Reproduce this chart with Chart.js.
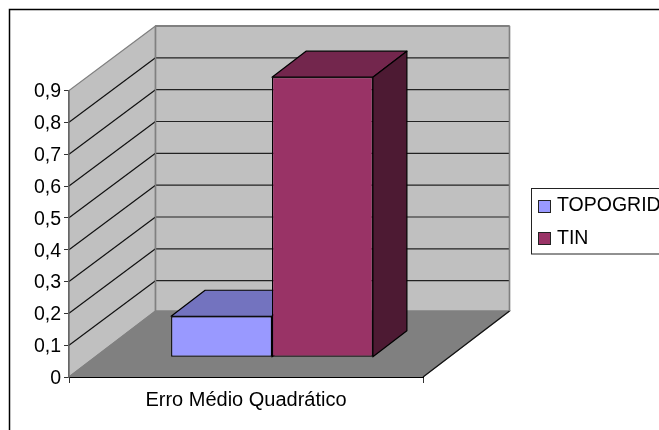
<!DOCTYPE html>
<html>
<head>
<meta charset="utf-8">
<title>Erro Médio Quadrático</title>
<script src="https://cdn.jsdelivr.net/npm/chart.js@4"></script>
<style>
  html, body { margin: 0; padding: 0; background: #fff; overflow: hidden; }
  canvas { display: block; }
</style>
</head>
<body>
<canvas id="chart" width="659" height="430"></canvas>
<script>
const categories = ['Erro Médio Quadrático'];
const seriesNames = ['TOPOGRID', 'TIN'];
const topogridValues = [0.129];
const tinValues = [0.88];
const yTickLabels = ['0', '0,1', '0,2', '0,3', '0,4', '0,5', '0,6', '0,7', '0,8', '0,9'];

const FONT = '"Liberation Sans", Arial, sans-serif';
const FONT_SIZE = 19.5;

// front colour, top face, side face of each series
const barColors = [
    { front: '#9999ff', top: '#7373bf', side: '#4d4d80' },
    { front: '#993366', top: '#73264d', side: '#4d1a33' }
];

// how far the back wall sits from the front plane, and the bars inside that box
const wallDepth = { x: 86.5, y: -64.5 };
const floorRise = -66;
const barOffset = { x: 26, y: -19.7 };
const barDepth = { x: 34, y: -26 };

function poly(ctx, pts, fill, stroke) {
    ctx.beginPath();
    ctx.moveTo(pts[0][0], pts[0][1]);
    for (let i = 1; i < pts.length; i++) ctx.lineTo(pts[i][0], pts[i][1]);
    ctx.closePath();
    if (fill) { ctx.fillStyle = fill; ctx.fill(); }
    if (stroke) { ctx.strokeStyle = stroke; ctx.lineWidth = 1.2; ctx.stroke(); }
}

function line(ctx, x1, y1, x2, y2, color, width) {
    ctx.strokeStyle = color;
    ctx.lineWidth = width || 1.2;
    ctx.beginPath();
    ctx.moveTo(x1, y1);
    ctx.lineTo(x2, y2);
    ctx.stroke();
}

// walls, floor and gridlines of the 3D box
const boxPlugin = {
    id: 'box',
    beforeDraw(chart) {
        const ctx = chart.ctx;
        const { left, right } = chart.chartArea;
        const y = chart.scales.y;
        const y0 = y.getPixelForValue(0);
        const yTop = y.getPixelForValue(0.9);
        const dx = wallDepth.x, dy = wallDepth.y;
        ctx.save();

        // frame round the whole chart, runs off the right and bottom
        ctx.strokeStyle = '#000';
        ctx.lineWidth = 1.5;
        ctx.strokeRect(9.5, 9.5, 700, 500);

        poly(ctx, [[left, y0], [left + dx, y0 + floorRise], [left + dx, yTop + dy], [left, yTop]], '#c0c0c0', '#808080');
        poly(ctx, [[left + dx, y0 + floorRise], [right + dx, y0 + floorRise], [right + dx, yTop + dy], [left + dx, yTop + dy]], '#c0c0c0', '#808080');
        poly(ctx, [[left, y0], [right, y0], [right + dx, y0 + floorRise], [left + dx, y0 + floorRise]], '#808080', '#808080');
        line(ctx, right, y0, right + dx, y0 + floorRise, '#111');

        y.ticks.forEach(t => {
            if (t.value === 0 || t.value >= 0.9) return;
            const py = y.getPixelForValue(t.value);
            line(ctx, left, py, left + dx, py + dy, '#111');
            line(ctx, left + dx, py + dy, right + dx, py + dy, '#222');
        });

        // top edge of the wall is a heavier grey
        line(ctx, left + dx, yTop + dy, right + dx, yTop + dy, '#808080', 2);
        line(ctx, right + dx, yTop + dy, right + dx, y0 + floorRise, '#808080', 1.5);
        line(ctx, left + dx, yTop + dy, left + dx, y0 + floorRise, '#808080', 1.5);
        ctx.restore();
    },
    // extruded faces go first, then the library's bars go on top at the same shift
    beforeDatasetsDraw(chart) {
        const ctx = chart.ctx;
        ctx.save();
        ctx.translate(barOffset.x, barOffset.y);
        ctx.lineJoin = 'round';
        chart.data.datasets.forEach((ds, i) => {
            chart.getDatasetMeta(i).data.forEach(bar => {
                const x1 = bar.x - bar.width / 2, x2 = bar.x + bar.width / 2;
                const yT = bar.y, yB = bar.base;
                const d = barDepth;
                poly(ctx, [[x1, yT], [x2, yT], [x2 + d.x, yT + d.y], [x1 + d.x, yT + d.y]], barColors[i].top, '#000');
                poly(ctx, [[x2, yT], [x2 + d.x, yT + d.y], [x2 + d.x, yB + d.y], [x2, yB]], barColors[i].side, '#000');
            });
        });
    },
    afterDatasetsDraw(chart) {
        chart.ctx.restore();
    },
    // legend box hangs off the right side of the canvas
    afterDraw(chart) {
        const ctx = chart.ctx;
        ctx.save();
        ctx.fillStyle = '#fff';
        ctx.fillRect(531.5, 188.5, 140, 65.5);
        ctx.strokeStyle = '#222';
        ctx.lineWidth = 1;
        ctx.strokeRect(531.5, 188.5, 140, 65.5);
        ctx.font = FONT_SIZE + 'px ' + FONT;
        ctx.textBaseline = 'middle';
        seriesNames.forEach((name, i) => {
            const top = 201 + i * 32;
            ctx.fillStyle = barColors[i].front;
            ctx.fillRect(538.5, top - 0.5, 12, 12);
            ctx.strokeStyle = '#222';
            ctx.strokeRect(538.5, top - 0.5, 12, 12);
            ctx.fillStyle = '#000';
            ctx.fillText(name, 557, top + 4.5 + i);
        });
        ctx.restore();
    }
};

new Chart(document.getElementById('chart'), {
    type: 'bar',
    data: {
        labels: categories,
        datasets: [
            { label: seriesNames[0], data: topogridValues, backgroundColor: barColors[0].front, borderColor: '#000', borderWidth: 1.2, borderSkipped: false },
            { label: seriesNames[1], data: tinValues, backgroundColor: barColors[1].front, borderColor: '#000', borderWidth: 1.2, borderSkipped: false }
        ]
    },
    options: {
        responsive: false,
        animation: false,
        events: [],
        categoryPercentage: 0.57,
        barPercentage: 1,
        layout: { padding: { left: 0, top: 90.5, right: 236, bottom: 0 } },
        plugins: { legend: { display: false }, title: { display: false }, tooltip: { enabled: false } },
        scales: {
            x: {
                afterFit(scale) { scale.height = 53; },
                grid: { offset: true, drawOnChartArea: false, color: '#333', tickLength: 6 },
                border: { color: '#000' },
                ticks: { color: '#000', padding: 5, maxRotation: 0, font: { family: FONT, size: 20 } }
            },
            y: {
                min: 0,
                max: 0.9,
                afterFit(scale) { scale.width = 69; },
                grid: { drawOnChartArea: false, color: '#333', tickLength: 5 },
                border: { color: '#666', width: 1.5 },
                ticks: {
                    stepSize: 0.1,
                    color: '#000',
                    padding: 3,
                    labelOffset: 1.5,
                    font: { family: FONT, size: FONT_SIZE },
                    callback(value, index) { return yTickLabels[index]; }
                }
            }
        }
    },
    plugins: [boxPlugin]
});
</script>
</body>
</html>
